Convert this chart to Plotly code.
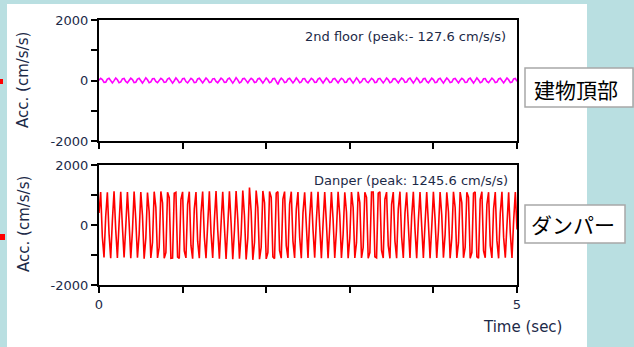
import plotly.graph_objects as go

W, H = 634, 347

# time axis (sec), 0.02 s sampling
time_sec = [round(i * 0.02, 2) for i in range(251)]

# 2nd floor acceleration (cm/s/s)
floor2_acc = [
    5, 72, 30, -64, -55, 47, 74, -22, -81,
    -3, 83, 22, -71, -48, 55, 66, -31, -76,
    8, 76, 29, -66, -57, 49, 71, -25, -84,
    -6, 85, 24, -73, -46, 58, 63, -29, -72,
    2, 74, 33, -62, -53, 45, 77, -20, -86,
    -8, 88, 19, -75, -44, 60, 68, -34, -78,
    6, 70, 28, -68, -59, 52, 73, -24, -82,
    -2, 81, 26, -70, -50, 54, 65, -30, -74,
    4, 77, 35, -61, -56, 46, 79, -18, -88,
    -5, 90, 21, -77, -47, 57, 70, -28, -80,
    7, 73, 31, -65, -52, 50, 72, -26, -83,
    -4, 84, 23, -72, -49, 56, 67, -32, -127.6,
    3, 78, 27, -67, -54, 48, 75, -21, -79,
    -7, 86, 20, -74, -45, 59, 64, -33, -75,
    5, 71, 32, -63, -58, 44, 78, -19, -85,
    -1, 82, 25, -69, -51, 53, 69, -27, -77,
    6, 75, 34, -60, -55, 47, 76, -23, -87,
    -6, 89, 18, -76, -43, 61, 66, -35, -73,
    2, 72, 30, -66, -57, 51, 71, -25, -81,
    -3, 80, 24, -71, -48, 55, 63, -30, -78,
    8, 76, 36, -62, -53, 46, 80, -17, -84,
    -5, 87, 22, -73, -46, 58, 67, -31, -76,
    4, 74, 29, -67, -56, 49, 73, -24, -86,
    -2, 83, 26, -70, -50, 54, 68, -28, -79,
    6, 70, 31, -64, -59, 45, 77, -21, -83,
    -4, 85, 21, -75, -47, 57, 65, -33, -74,
    3, 78, 28, -68, -54, 50, 72, -26, -80,
    -1, 81, 25, -70, -52, 53, 70, -28,
]

# damper acceleration (cm/s/s)
damper_acc = [
    400, 1100, -390, -1080,
    274, 1090, -280, -1110,
    155, 1120, -150, -1095,
    38, 1105, -45, -1085,
    -77, 1095, 80, -1110,
    -194, 1115, 190, -1090,
    -315, 1100, 320, -1120,
    -444, 1085, 440, -1100,
    -585, 1110, 590, -1095,
    -742, 1120, 735, -1105,
    -923, 1095, 915, -1110,
    -1100, 1062, 1090, -1070,
    -1115, 859, 1105, -865,
    -1095, 687, 1110, -680,
    -1120, 536, 1100, -540,
    -1105, 400, 1115, -395,
    -1110, 274, 1125, -270,
    -1100, 155, 1130, -160,
    -1120, 38, 1110, -40,
    -1135, -77, 1120, 75,
    -1140, -194, 1130, 190,
    -1125, -315, 1145, 310,
    -1150, -444, 1245.6, 440,
    -1160, -585, 1150, 580,
    -1140, -742, 1135, 740,
    -1130, -923, 1120, 920,
    -1062, -1120, 1060, 1110,
    -859, -1105, 860, 1115,
    -687, -1100, 690, 1110,
    -536, -1095, 530, 1100,
    -400, -1110, 405, 1090,
    -274, -1100, 270, 1105,
    -155, -1090, 150, 1110,
    -38, -1105, 40, 1095,
    77, -1110, -80, 1100,
    194, -1095, -190, 1105,
    315, -1100, -320, 1090,
    444, -1110, -440, 1100,
    585, -1095, -590, 1105,
    742, -1100, -745, 1095,
    923, -1105, -920, 1100,
    1100, -1062, -1095, 1060,
    1105, -859, -1100, 860,
    1095, -687, -1110, 690,
    1100, -536, -1105, 530,
    1110, -400, -1095, 405,
    1090, -274, -1100, 270,
    1105, -155, -1110, 150,
    1100, -38, -1095, 40,
    1095, 77, -1105, -80,
    1110, 194, -1100, -190,
    1100, 315, -1090, -320,
    1090, 444, -1105, -440,
    1105, 585, -1100, -590,
    1100, 742, -1095, -745,
    1095, 923, -1110, -920,
    1062, 1100, -1060, -1105,
    859, 1110, -860, -1095,
    687, 1095, -690, -1100,
    536, 1100, -530, -1110,
    400, 1105, -405, -1090,
    274, 1090, -270, -1100,
    155, 1100, -150,
]

y_tickvals = [-2000, -1000, 0, 1000, 2000]
y_ticktext = ["-2000", "", "0", "", "2000"]
x_tickvals = [0, 1, 2, 3, 4, 5]
x_ticktext_bottom = ["0", "", "", "", "", "5"]
x_ticktext_top = ["", "", "", "", "", ""]

panel_labels = ["2nd floor (peak:- 127.6 cm/s/s)", "Danper (peak: 1245.6 cm/s/s)"]
side_labels = ["建物頂部", "ダンパー"]
y_title = "Acc. (cm/s/s)"
x_title = "Time (sec)"


def px(x):
    return x / W


def py(y):
    return 1 - y / H


fig = go.Figure()
fig.add_trace(go.Scatter(x=time_sec, y=floor2_acc, mode="lines",
                         line=dict(color="#ff00ff", width=1.6),
                         xaxis="x", yaxis="y", showlegend=False, hoverinfo="skip"))
fig.add_trace(go.Scatter(x=time_sec, y=damper_acc, mode="lines",
                         line=dict(color="#ff0000", width=1.6),
                         xaxis="x2", yaxis="y2", showlegend=False, hoverinfo="skip"))

navy = "#1c2a48"
tickfont = dict(family="DejaVu Sans, sans-serif", size=13, color=navy)
axis_common = dict(showline=True, linecolor="black", linewidth=2, mirror=True,
                   ticks="outside", ticklen=6, tickwidth=2, tickcolor="black",
                   showgrid=False, zeroline=False, tickfont=tickfont, automargin=False)

xdom = [px(99), px(517)]
fig.update_layout(
    template="none",
    width=W, height=H, autosize=False,
    margin=dict(l=0, r=0, t=0, b=0, pad=0, autoexpand=False),
    paper_bgcolor="#b9dfe1",
    plot_bgcolor="white",
    xaxis=dict(domain=xdom, range=[0, 5], tickvals=x_tickvals, ticktext=x_ticktext_top,
               anchor="y", **axis_common),
    yaxis=dict(domain=[py(141), py(20)], range=[-2000, 2000], tickvals=y_tickvals,
               ticktext=y_ticktext, anchor="x", **axis_common),
    xaxis2=dict(domain=xdom, range=[0, 5], tickvals=x_tickvals, ticktext=x_ticktext_bottom,
                anchor="y2", **axis_common),
    yaxis2=dict(domain=[py(285), py(165)], range=[-2000, 2000], tickvals=y_tickvals,
                ticktext=y_ticktext, anchor="x2", **axis_common),
)

shapes = [
    dict(type="rect", xref="paper", yref="paper", x0=px(7), x1=px(587), y0=0, y1=py(4),
         fillcolor="white", line=dict(width=0), layer="below"),
    dict(type="rect", xref="paper", yref="paper", x0=px(525), x1=px(633), y0=py(107), y1=py(68),
         fillcolor="white", line=dict(color="#a8a8a8", width=1.5), layer="above"),
    dict(type="rect", xref="paper", yref="paper", x0=px(525), x1=px(625), y0=py(243), y1=py(205),
         fillcolor="white", line=dict(color="#a8a8a8", width=1.5), layer="above"),
    dict(type="rect", xref="paper", yref="paper", x0=0, x1=px(3), y0=py(84), y1=py(79),
         fillcolor="red", line=dict(width=0), layer="above"),
    dict(type="rect", xref="paper", yref="paper", x0=0, x1=px(5), y0=py(240), y1=py(234),
         fillcolor="red", line=dict(width=0), layer="above"),
]
fig.update_layout(shapes=shapes)

txt_font = dict(family="DejaVu Sans, sans-serif", size=13, color=navy)
title_font = dict(family="DejaVu Sans, sans-serif", size=15, color=navy)
jp_font = dict(family="Noto Sans CJK JP, sans-serif", size=21, color="black")

annotations = [
    dict(text=panel_labels[0], xref="paper", yref="paper", x=px(508), y=py(36),
         xanchor="right", yanchor="middle", showarrow=False, font=txt_font),
    dict(text=panel_labels[1], xref="paper", yref="paper", x=px(510), y=py(180),
         xanchor="right", yanchor="middle", showarrow=False, font=txt_font),
    dict(text=y_title, xref="paper", yref="paper", x=px(23), y=py(80), textangle=-90,
         xanchor="center", yanchor="middle", showarrow=False, font=title_font),
    dict(text=y_title, xref="paper", yref="paper", x=px(24), y=py(224), textangle=-90,
         xanchor="center", yanchor="middle", showarrow=False, font=title_font),
    dict(text=x_title, xref="paper", yref="paper", x=px(522), y=py(327),
         xanchor="center", yanchor="middle", showarrow=False, font=title_font),
    dict(text=side_labels[0], xref="paper", yref="paper", x=px(576), y=py(89),
         xanchor="center", yanchor="middle", showarrow=False, font=jp_font),
    dict(text=side_labels[1], xref="paper", yref="paper", x=px(573), y=py(224),
         xanchor="center", yanchor="middle", showarrow=False, font=jp_font),
]
fig.update_layout(annotations=annotations)

fig.write_html(
    "out.html",
    config={"displayModeBar": False, "staticPlot": True},
    post_script="document.body.style.margin='0';document.body.style.padding='0';"
                "document.body.style.overflow='hidden';",
)
